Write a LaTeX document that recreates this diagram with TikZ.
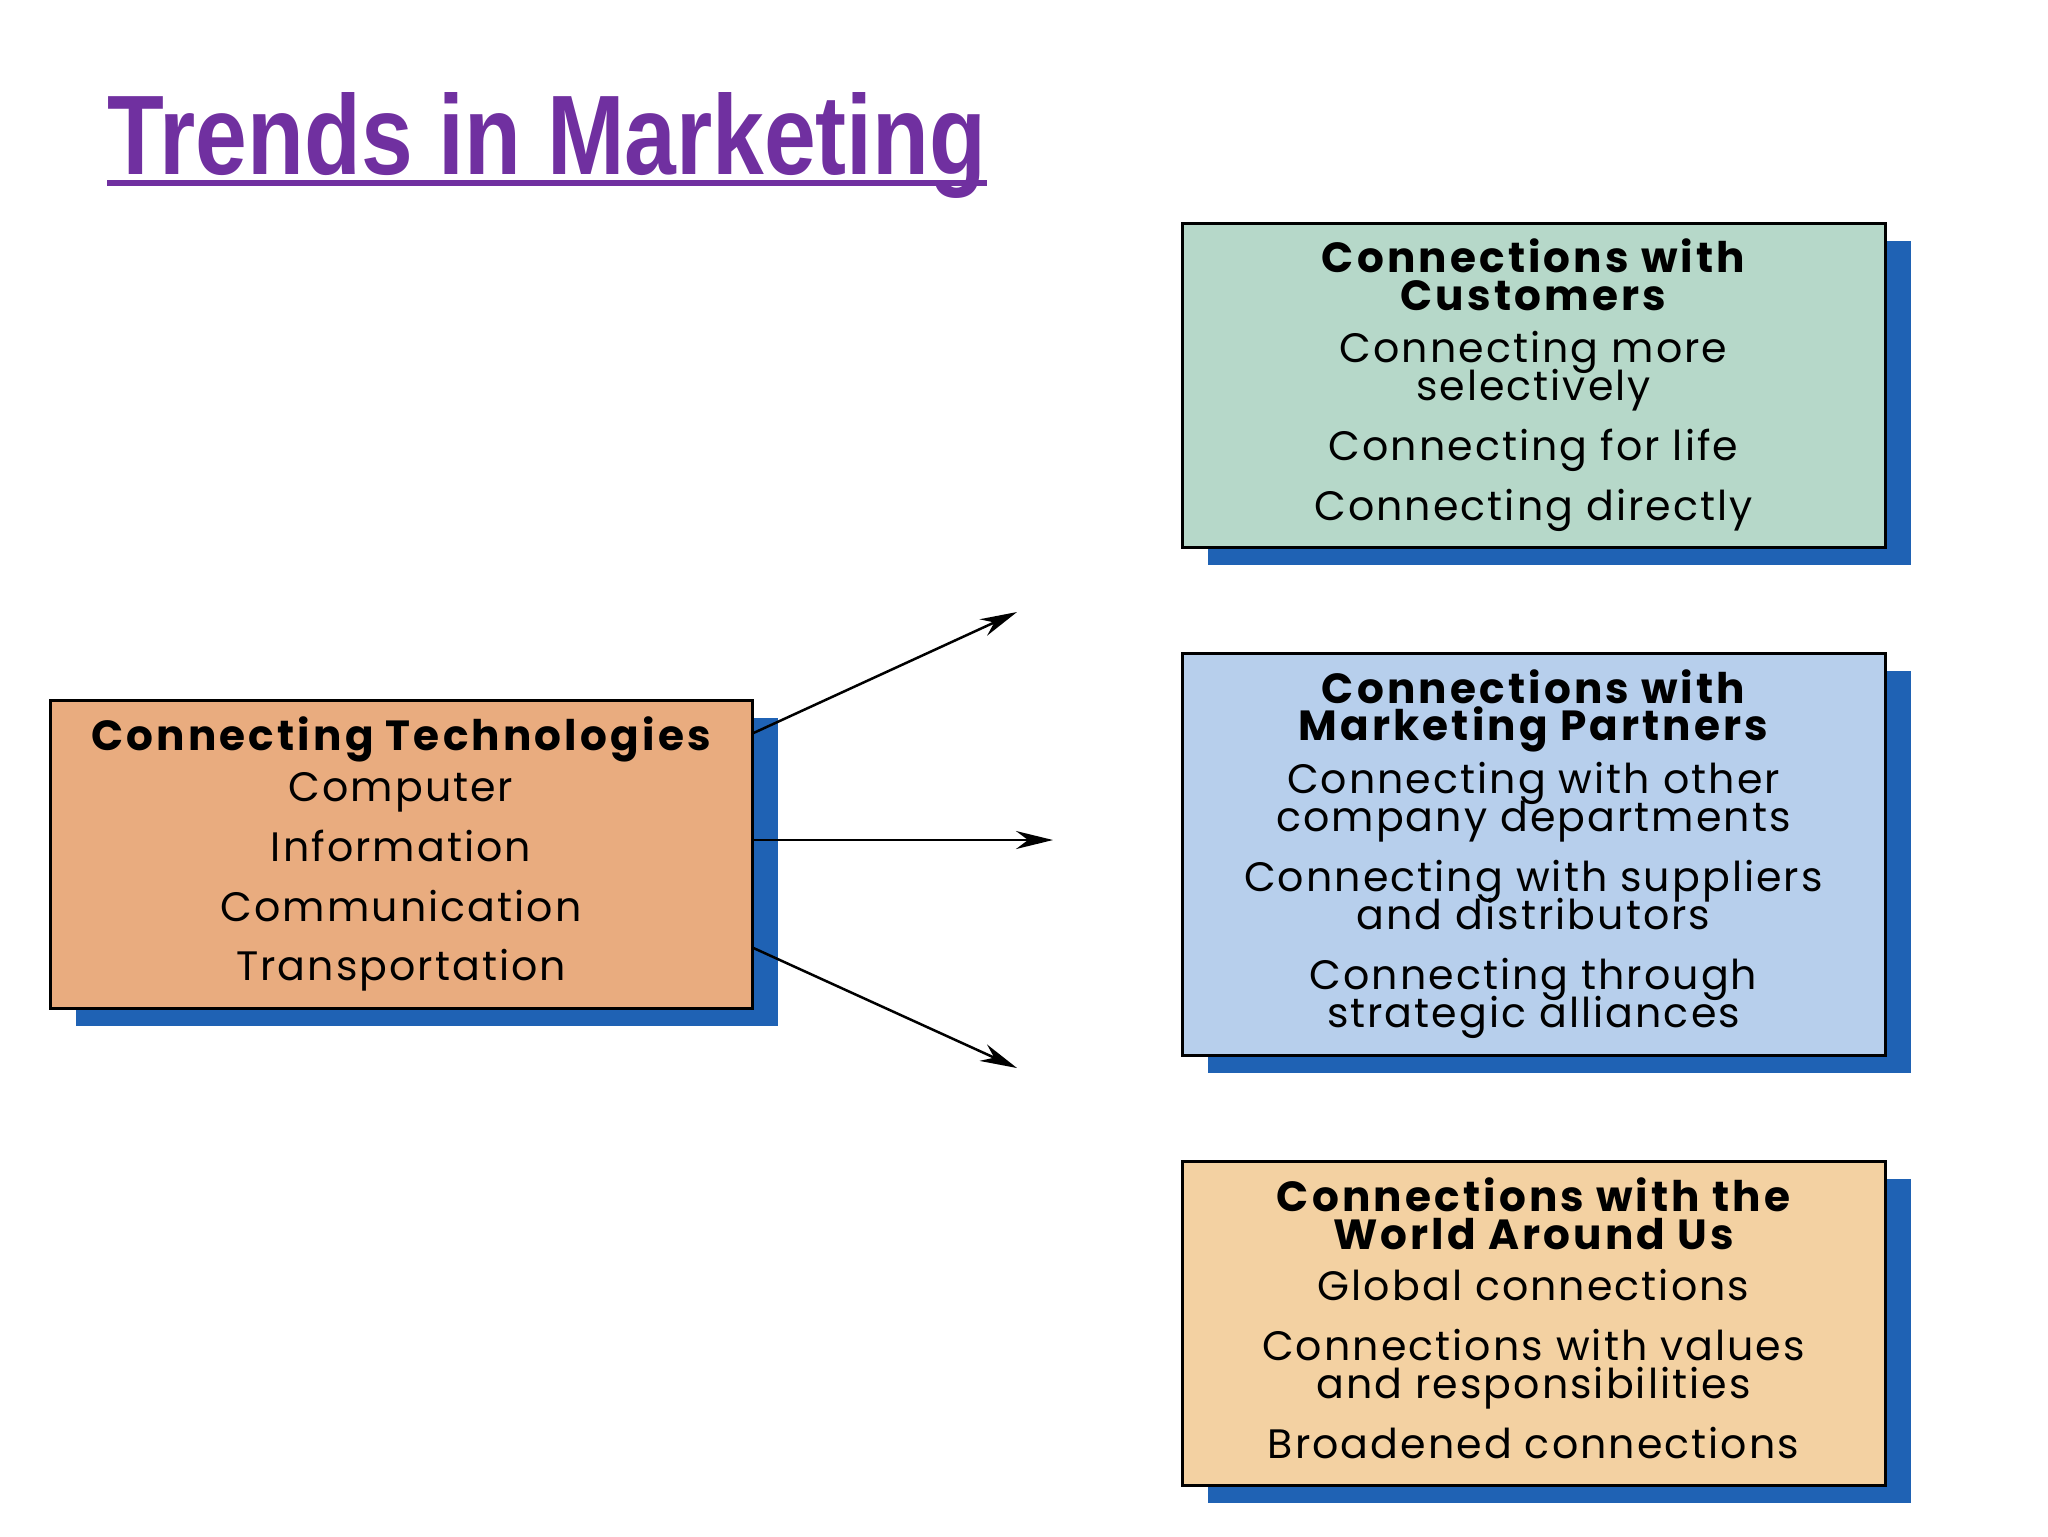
\documentclass[tikz,border=0pt]{standalone}
\usepackage{fontspec}
\setmainfont{Poppins}[LetterSpace=5]
\newfontfamily\headfont{Poppins}[LetterSpace=7.5]
\newfontfamily\titlefont[FakeStretch=0.822]{Liberation Sans}
\usetikzlibrary{arrows.meta,shadows,calc}
\definecolor{titlepurple}{HTML}{7030A0}
\definecolor{shadowblue}{HTML}{1F62B4}
\definecolor{custgreen}{HTML}{B6D8C9}
\definecolor{partblue}{HTML}{B7CFEC}
\definecolor{worldtan}{HTML}{F3D1A2}
\definecolor{techorange}{HTML}{E9AC7F}
\newcommand{\hd}[1]{{\headfont\bfseries\fontsize{12pt}{10.8pt}\selectfont #1}}
\tikzset{
  panel/.style={draw=black, line width=0.3mm, inner sep=0pt, align=center,
    general shadow={fill=shadowblue, shadow xshift=2.6mm, shadow yshift=-1.8mm},
    font=\fontsize{11.7pt}{10.8pt}\selectfont},
  conn/.style={-{Stealth[length=3.7mm,width=1.8mm]}, line width=0.25mm, draw=black},
}
\begin{document}
\setlength{\lineskiplimit}{-100pt}%
\begin{tikzpicture}[x=0.1mm, y=-0.1mm]
\useasboundingbox (0,0) rectangle (2048,1536);
% title
\node[anchor=base west, inner sep=0pt, text=titlepurple,
  font=\titlefont\bfseries\fontsize{32.2pt}{36pt}\selectfont] (title) at (107,174) {Trends in Marketing};
\draw[titlepurple, line width=0.6mm] ($(title.base west)+(0,9)$) -- ($(title.base east)+(0,9)$);
% boxes
\node[panel, fill=custgreen, minimum width=70.3mm, minimum height=32.4mm] (cust) at (1533.5,385)
 {\hd{Connections with}\\\hd{Customers}\\[1.4mm]Connecting more\\selectively\\[2.2mm]Connecting for life\\[2.2mm]Connecting directly};
\node[panel, fill=partblue, minimum width=70.3mm, minimum height=40.2mm] (part) at (1533.5,854)
 {\hd{Connections with}\\\hd{Marketing Partners}\\[1.5mm]Connecting with other\\company departments\\[2.2mm]Connecting with suppliers\\and distributors\\[2.2mm]Connecting through\\strategic alliances};
\node[panel, fill=worldtan, minimum width=70.3mm, minimum height=32.4mm] (world) at (1533.5,1323)
 {\hd{Connections with the}\\\hd{World Around Us}\\[1.3mm]Global connections\\[2.2mm]Connections with values\\and responsibilities\\[2.2mm]Broadened connections\rule[-1mm]{0pt}{1mm}};
\node[panel, fill=techorange, minimum width=70.2mm, minimum height=30.8mm] (tech) at (401,854)
 {\hd{Connecting Technologies}\\[1.3mm]Computer\\[2.2mm]Information\\[2.2mm]Communication\\[2.2mm]Transportation};
% arrows
\coordinate (s1) at ($(tech.east)+(0,-121)$);
\coordinate (s2) at ($(tech.east)+(0,-14)$);
\coordinate (s3) at ($(tech.east)+(0,94)$);
\coordinate (e1) at (1017,612);
\coordinate (e2) at (1053,840);
\coordinate (e3) at (1017,1068);
\draw[conn] (s1) -- (e1);
\draw[conn] (s2) -- (e2);
\draw[conn] (s3) -- (e3);
\end{tikzpicture}
\end{document}
